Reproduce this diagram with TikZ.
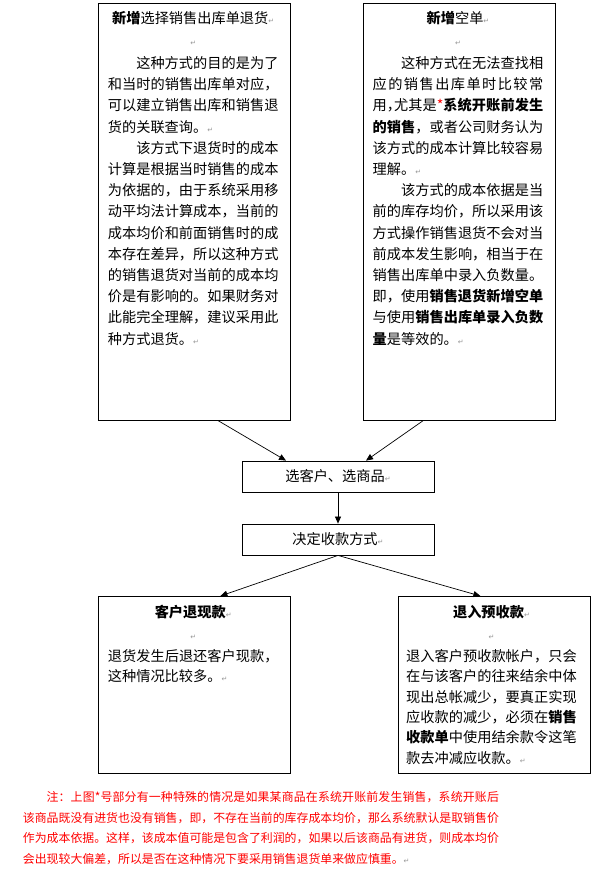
\documentclass[tikz,border=0pt]{standalone}
\usepackage{fontspec}
\setmainfont{Noto Sans CJK SC}
\newfontfamily\symfont{DejaVu Sans}
\usetikzlibrary{arrows.meta}
\XeTeXlinebreaklocale "zh"
\XeTeXlinebreakskip=0pt plus 1pt
\definecolor{markgray}{RGB}{150,150,150}
\definecolor{notered}{RGB}{255,0,0}
\newcommand{\pmk}{{\symfont\fontsize{7}{7}\selectfont\textcolor{markgray}{↵}}}
\newcommand{\bodyfont}{\fontsize{14.2}{21.2}\selectfont}
\newcommand{\smallbodyfont}{\fontsize{14.2}{20.3}\selectfont}
\newcommand{\notefont}{\fontsize{11.9}{20.6}\selectfont}
\newcommand{\halfcomma}{\makebox[0.5em][l]{，}}
\tikzset{
  box/.style={draw=black, line width=0.8pt, inner sep=0pt, fill=white},
  txt/.style={inner sep=0pt, anchor=base west},
  arr/.style={-{Triangle[length=7pt,width=6pt]}, line width=0.7pt}
}
\begin{document}
\begin{tikzpicture}[x=1pt,y=-1pt]
\useasboundingbox[fill=white] (0,0) rectangle (606,877);
% boxes
\node[box, anchor=north west, minimum width=192pt, minimum height=417pt] (boxA) at (98,3) {};
\node[box, anchor=north west, minimum width=192pt, minimum height=417pt] (boxB) at (362.5,3) {};
\node[box, minimum width=192pt, minimum height=31pt] (boxC) at (338,476.5) {\bodyfont 选客户、选商品\pmk};
\node[box, minimum width=192pt, minimum height=31pt] (boxD) at (338,539.5) {\bodyfont 决定收款方式\pmk};
\node[box, anchor=north west, minimum width=192pt, minimum height=177pt] (boxE) at (98,596) {};
\node[box, anchor=north west, minimum width=192pt, minimum height=177pt] (boxF) at (398,596) {};
% texts
\node[txt] (tA) at (107.7,23.5) {\parbox[t]{170.6pt}{\bodyfont
{\centering\textbf{新增}选择销售出库单退货\pmk\par}\vspace{1.3pt}
{\centering\pmk\par}\vspace{1.3pt}
\hspace*{2em}这种方式的目的是为了\linebreak 和当时的销售出库单对应，\linebreak 可以建立销售出库和销售退\linebreak 货的关联查询。\pmk\par
\hspace*{2em}该方式下退货时的成本\linebreak 计算是根据当时销售的成本\linebreak 为依据的，由于系统采用移\linebreak 动平均法计算成本，当前的\linebreak 成本均价和前面销售时的成\linebreak 本存在差异，所以这种方式\linebreak 的销售退货对当前的成本均\linebreak 价是有影响的。如果财务对\linebreak 此能完全理解，建议采用此\linebreak 种方式退货。\pmk\par}};
\node[txt] (tB) at (372.5,23.5) {\parbox[t]{170.6pt}{\bodyfont
{\centering\textbf{新增}空单\pmk\par}\vspace{1.3pt}
{\centering\pmk\par}\vspace{1.3pt}
\hspace*{2em}这种方式在无法查找相\linebreak 应的销售出库单时比较常\linebreak 用\halfcomma 尤其是\textcolor{notered}{*}\textbf{系统开账前发生}\linebreak \textbf{的销售}，或者公司财务认为\linebreak 该方式的成本计算比较容易\linebreak 理解。\pmk\par
\hspace*{2em}该方式的成本依据是当\linebreak 前的库存均价，所以采用该\linebreak 方式操作销售退货不会对当\linebreak 前成本发生影响，相当于在\linebreak 销售出库单中录入负数量。\linebreak 即，使用\textbf{销售退货新增空单}\linebreak 与使用\textbf{销售出库单录入负数}\linebreak \textbf{量}是等效的。\pmk\par}};
\node[txt] (tE) at (107.7,617) {\parbox[t]{170.6pt}{\smallbodyfont
{\centering\textbf{客户退现款}\pmk\par}\vspace{2pt}
{\centering\pmk\par}\vspace{2pt}
退货发生后退还客户现款，\linebreak 这种情况比较多。\pmk\par}};
\node[txt] (tF) at (406,617) {\parbox[t]{170.6pt}{\smallbodyfont
{\centering\textbf{退入预收款}\pmk\par}\vspace{2pt}
{\centering\pmk\par}\vspace{2pt}
退入客户预收款帐户，只会\linebreak 在与该客户的往来结余中体\linebreak 现出总帐减少，要真正实现\linebreak 应收款的减少，必须在\textbf{销售}\linebreak \textbf{收款单}中使用结余款令这笔\linebreak 款去冲减应收款。\pmk\par}};
\node[txt, text=notered] (note) at (22.7,801.5) {\parbox[t]{476pt}{\notefont
\hspace*{2em}注：上图*号部分有一种特殊的情况是如果某商品在系统开账前发生销售，系统开账后\linebreak 该商品既没有进货也没有销售，即，不存在当前的库存成本均价，那么系统默认是取销售价\linebreak 作为成本依据。这样，该成本值可能是包含了利润的，如果以后该商品有进货，则成本均价\linebreak 会出现较大偏差，所以是否在这种情况下要采用销售退货单来做应慎重。\pmk\par}};
% connectors
\draw[arr] ([xshift=24pt]boxA.south) -- ([xshift=-52pt]boxC.north);
\draw[arr] ([xshift=-36pt]boxB.south) -- ([xshift=28pt]boxC.north);
\draw[arr] (boxC.south) -- (boxD.north);
\draw[arr] (boxD.south) -- ([xshift=26pt]boxE.north);
\draw[arr] (boxD.south) -- ([xshift=-14pt]boxF.north);
\end{tikzpicture}
\end{document}
